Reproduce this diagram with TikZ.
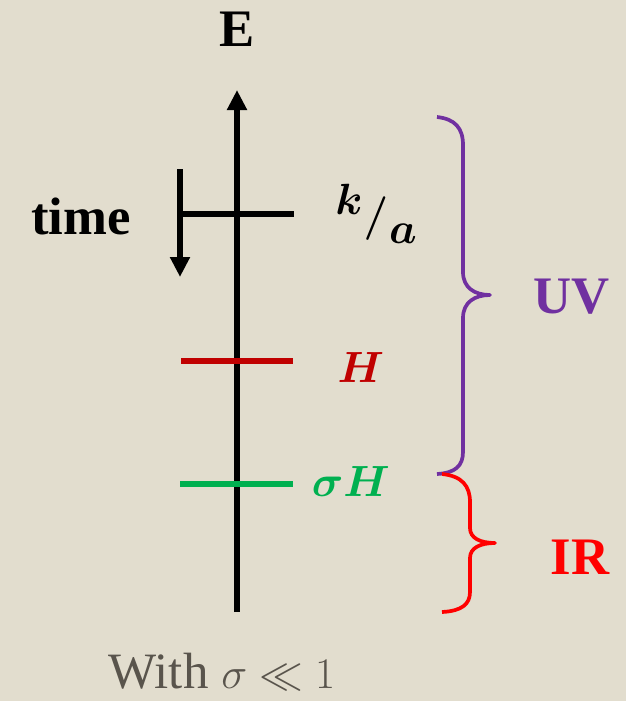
\documentclass[tikz,border=0pt]{standalone}
\usepackage{amsmath}
\usepackage{bm}
\usepackage{fontspec}
\setmainfont{Liberation Serif}
\usepackage{tikz}
\usetikzlibrary{arrows.meta, positioning, calc}
\definecolor{lvlpaper}  {RGB}{226, 221, 206}
\definecolor{lvldark}   {RGB}{  0,   0,   0}
\definecolor{lvlred}    {RGB}{192,   0,   0}
\definecolor{lvlgreen}  {RGB}{  0, 176,  80}
\definecolor{lvlpurple} {RGB}{112,  48, 160}
\definecolor{lvlbright} {RGB}{255,   0,   0}
\definecolor{lvlgrey}   {RGB}{ 89,  84,  76}
\tikzset{
	level/.style={line width=3.3pt},
	axisline/.style={line width=3.1pt, -{Triangle[width=0.38cm,length=0.4cm]}},
	bracestroke/.style={line width=2.1pt, line join=round},
	biglabel/.style={font=\fontsize{30}{36}\selectfont\bfseries, inner sep=0pt},
	mathlabel/.style={inner sep=0pt, font=\fontsize{36}{40}\selectfont},
}

\begin{document}
\begin{tikzpicture}[x=0.02cm, y=-0.02cm]
				\fill[lvlpaper] (0,0) rectangle (626,701);
				\coordinate (Ebot) at (237,612);
				\coordinate (Etop) at (237,90);
				\draw[axisline,lvldark] (Ebot)--(Etop);
				\node[biglabel] (Elab) at (237,29) {E};
				% time arrow and the k/a level
				\coordinate (tTop) at (180,169);
				\coordinate (tBot) at (180,277);
				\draw[axisline,lvldark] (tTop)--(tBot);
				\draw[level,lvldark] (181,214)--(294,214);
				\node[biglabel] (timelab) at (81,216) {time};
				\node[inner sep=0pt,font=\fontsize{34}{40}\selectfont] (klab) at (349,199) {$\bm{k}$};
				\node[inner sep=0pt,font=\fontsize{44}{50}\selectfont] (slash) at (376,219) {$\bm{/}$};
				\node[inner sep=0pt,font=\fontsize{40}{46}\selectfont] (alab) at (403,234) {$\bm{a}$};
				% H and sigma H
				\draw[level,lvlred] (181,361)--(293,361);
				\node[mathlabel,lvlred] (Hlab) at (361,367) {$\bm{H}$};
				\draw[level,lvlgreen] (180,484)--(293,484);
				\node[mathlabel,lvlgreen] (sHlab) at (351,481) {$\bm{\sigma H}$};
				% braces
				\draw[bracestroke,lvlpurple] (437,117) .. controls (455,119) and (463,128) .. (463,145) -- (463,272)
					.. controls (463,288) and (475,295) .. (490,295) .. controls (475,295) and (463,302) .. (463,318)
					-- (463,452) .. controls (463,466) and (455,473) .. (437,474);
				\node[biglabel,lvlpurple] (UVlab) at (572,297) {UV};
				\draw[bracestroke,lvlbright] (442,474) .. controls (462,476) and (470,486) .. (470,502) -- (470,528)
					.. controls (470,538) and (480,543) .. (495,543) .. controls (480,543) and (470,548) .. (470,558)
					-- (470,592) .. controls (470,604) and (462,611) .. (442,612);
				\node[biglabel,lvlbright] (IRlab) at (580,557) {IR};
				\node[lvlgrey,font=\fontsize{29}{34}\selectfont] (note) at (222,672) {With $\sigma \ll 1$};
			\end{tikzpicture}
\end{document}
